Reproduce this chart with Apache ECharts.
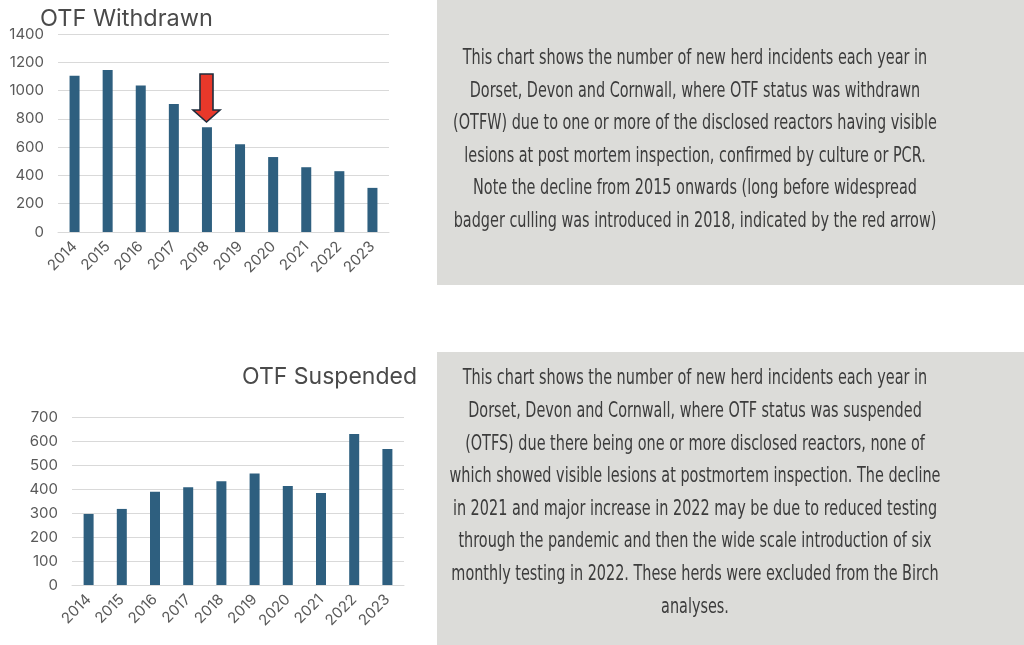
<!DOCTYPE html>
<html>
<head>
<meta charset="utf-8">
<script src="https://cdn.jsdelivr.net/npm/echarts@6/dist/echarts.min.js"></script>
<style>
  html, body { margin: 0; padding: 0; background: #fff; }
  #main { width: 1024px; height: 645px; }
</style>
</head>
<body>
<div id="main"></div>
<script>
// years shared by both charts
var years = ['2014', '2015', '2016', '2017', '2018', '2019', '2020', '2021', '2022', '2023'];
// OTF withdrawn herd incidents
var withdrawn = [1105, 1145, 1035, 905, 740, 620, 530, 458, 430, 312];
// OTF suspended herd incidents
var suspended = [296, 317, 389, 407, 432, 465, 413, 383, 629, 567];

var textWithdrawn = [
  'This chart shows the number of new herd incidents each year in',
  'Dorset, Devon and Cornwall, where OTF status was withdrawn',
  '(OTFW) due to one or more of the disclosed reactors having visible',
  'lesions at post mortem inspection, confirmed by culture or PCR.',
  'Note the decline from 2015 onwards (long before widespread',
  'badger culling was introduced in 2018, indicated by the red arrow)'
];
var textSuspended = [
  'This chart shows the number of new herd incidents each year in',
  'Dorset, Devon and Cornwall, where OTF status was suspended',
  '(OTFS) due there being one or more disclosed reactors, none of',
  'which showed visible lesions at postmortem inspection. The decline',
  'in 2021 and major increase in 2022 may be due to reduced testing',
  'through the pandemic and then the wide scale introduction of six',
  'monthly testing in 2022. These herds were excluded from the Birch',
  'analyses.'
];

var barColor = '#2e5f7f';
var gridColor = '#d9d9d9';
var labelColor = '#595959';
var boxFont = '"DejaVu Sans Condensed", "Liberation Sans Narrow", sans-serif';

var chart = echarts.init(document.getElementById('main'));

function xAxisFor(idx) {
  return {
    type: 'category',
    gridIndex: idx,
    data: years,
    axisLine: { lineStyle: { color: gridColor } },
    axisTick: { show: false },
    axisLabel: { rotate: 45, color: labelColor, fontSize: 15, fontFamily: 'Inter, sans-serif', margin: 12 }
  };
}
function yAxisFor(idx, max, step) {
  return {
    type: 'value',
    gridIndex: idx,
    min: 0,
    max: max,
    interval: step,
    axisLine: { show: false },
    axisTick: { show: false },
    splitLine: { lineStyle: { color: gridColor, width: 1.2 } },
    axisLabel: {
      color: labelColor, fontSize: 15, fontFamily: 'Inter, sans-serif', margin: 14,
      formatter: function (v) { return String(v); }
    }
  };
}

chart.setOption({
  animation: false,
  grid: [
    { left: 58, right: 635, top: 34, bottom: 413 },
    { left: 72, right: 620, top: 417, bottom: 60 }
  ],
  xAxis: [xAxisFor(0), xAxisFor(1)],
  yAxis: [yAxisFor(0, 1400, 200), yAxisFor(1, 700, 100)],
  series: [
    {
      type: 'bar', xAxisIndex: 0, yAxisIndex: 0, data: withdrawn,
      barWidth: 10, itemStyle: { color: barColor }
    },
    {
      type: 'bar', xAxisIndex: 1, yAxisIndex: 1, data: suspended,
      barWidth: 10, itemStyle: { color: barColor }
    }
  ],
  graphic: [
    // grey note boxes
    { type: 'rect', shape: { x: 437, y: 0, width: 587, height: 285 }, style: { fill: '#dcdcd9' }, z: -1 },
    { type: 'rect', shape: { x: 437, y: 352, width: 587, height: 293 }, style: { fill: '#dcdcd9' }, z: -1 },
    {
      type: 'text', x: 695, y: 140, scaleX: 0.746,
      style: {
        text: textWithdrawn.join('\n'), fill: '#3c3c3c', font: '21.5px ' + boxFont,
        align: 'center', verticalAlign: 'middle', lineHeight: 32.6
      }
    },
    {
      type: 'text', x: 695, y: 493, scaleX: 0.746,
      style: {
        text: textSuspended.join('\n'), fill: '#3c3c3c', font: '21.5px ' + boxFont,
        align: 'center', verticalAlign: 'middle', lineHeight: 32.6
      }
    },
    // chart titles
    {
      type: 'text', x: 40, y: 19,
      style: { text: 'OTF Withdrawn', fill: '#4a4a4a', font: '23.5px Inter, sans-serif', verticalAlign: 'middle' }
    },
    {
      type: 'text', x: 417, y: 377,
      style: { text: 'OTF Suspended', fill: '#4a4a4a', font: '23px Inter, sans-serif', align: 'right', verticalAlign: 'middle' }
    },
    // red arrow pointing to 2018
    {
      type: 'polygon',
      shape: { points: [[200, 74], [213, 74], [213, 110], [220, 110], [206.5, 122], [193, 110], [200, 110]] },
      style: { fill: '#e8382a', stroke: '#1f2d3d', lineWidth: 1.6 },
      z: 10
    }
  ]
});
</script>
</body>
</html>
